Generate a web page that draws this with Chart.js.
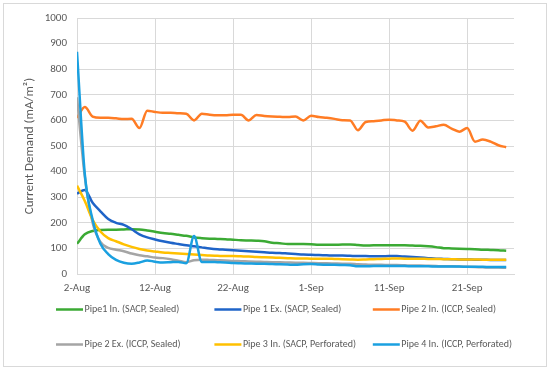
<!DOCTYPE html>
<html>
<head>
<meta charset="utf-8">
<script src="https://cdn.jsdelivr.net/npm/chart.js@4.4.0/dist/chart.umd.min.js"></script>
<style>
  html, body { margin: 0; padding: 0; background: #fff; }
  #wrap { position: relative; width: 550px; height: 370px; }
  #frame { position: absolute; left: 3px; top: 3px; width: 542px; height: 362px; border: 1px solid #d9d9d9; }
  canvas { position: absolute; left: 0; top: 0; }
</style>
</head>
<body>
<div id="wrap">
  <div id="frame"></div>
  <canvas id="demandChart" width="550" height="370"></canvas>
</div>
<script>
// days since 2-Aug
const days = [0,1,2,3,4,5,6,7,8,9,10,11,12,13,14,15,16,17,18,19,20,21,22,23,24,25,26,27,
  28,29,30,31,32,33,34,35,36,37,38,39,40,41,42,43,44,45,46,47,48,49,50,51,52,53,54,55];
const tickLabels = ['2-Aug', '12-Aug', '22-Aug', '1-Sep', '11-Sep', '21-Sep'];
const seriesNames = [
  'Pipe1 In. (SACP, Sealed)', 'Pipe 1 Ex. (SACP, Sealed)', 'Pipe 2 In. (ICCP, Sealed)',
  'Pipe 2 Ex. (ICCP, Sealed)', 'Pipe 3 In. (SACP, Perforated)', 'Pipe 4 In. (ICCP, Perforated)'
];

const pipe1In = [118,155,168,172,173,173,174,175,174,170,165,160,157,153,149,143,140,138,137,136,
  134,132,131,130,128,122,120,117,117,117,116,114,114,114,115,115,113,111,112,112,
  112,112,112,111,110,108,105,101,100,99,98,97,95,94,93,91];
const pipe1Ex = [314,328,278,245,215,200,192,175,155,143,135,128,122,117,112,108,104,100,97,95,
  93,91,89,87,85,83,82,80,78,76,75,74,73,72,72,71,70,70,69,69,
  70,70,68,66,64,62,60,59,58,57,57,56,56,55,55,55];
const pipe2In = [610,652,615,610,610,608,605,606,570,638,633,630,630,628,626,600,626,622,620,620,
  622,622,600,621,617,615,614,613,615,600,618,613,610,606,601,600,562,594,597,600,
  603,600,595,560,599,572,577,583,568,556,570,517,525,517,503,495];
const pipe2Ex = [690,380,200,125,102,95,89,80,73,69,64,62,58,52,46,54,56,55,54,53,
  51,50,49,48,47,46,46,45,44,44,43,42,42,41,40,40,38,37,36,36,
  35,35,34,33,33,32,31,30,30,29,28,27,26,25,25,24];
const pipe3In = [345,285,212,166,140,128,116,106,98,92,88,84,82,80,78,76,74,72,71,70,
  70,69,68,66,65,64,63,62,61,61,60,60,60,59,58,57,56,57,58,59,
  60,61,60,60,60,59,59,58,58,57,57,57,56,56,56,56];
const pipe4In = [868,390,212,118,78,55,44,40,45,53,48,45,46,47,42,148,47,47,46,45,
  43,42,41,40,40,39,38,37,36,38,39,37,36,36,35,34,30,30,31,31,
  31,31,31,30,30,30,29,29,29,29,28,28,28,27,27,27];

const allSeries = [pipe1In, pipe1Ex, pipe2In, pipe2Ex, pipe3In, pipe4In];
const colors = ['#3BAA34', '#1F64C8', '#FF7C24', '#A5A5A5', '#FFC000', '#1AA0E0'];

const fontFamily = "Carlito, Calibri, Lato, sans-serif";
Chart.defaults.font.family = fontFamily;
Chart.defaults.color = '#595959';

// two-row legend under the plot, like the spreadsheet one
const rowLegend = {
  id: 'rowLegend',
  afterDraw(chart) {
    const ctx = chart.ctx;
    ctx.save();
    ctx.font = '10px ' + fontFamily;
    ctx.textBaseline = 'middle';
    ctx.fillStyle = '#595959';
    chart.data.datasets.forEach((ds, i) => {
      const x = 56 + (i % 3) * 158.4;
      const y = 309.5 + Math.floor(i / 3) * 35;
      ctx.strokeStyle = ds.borderColor;
      ctx.lineWidth = 2.5;
      ctx.beginPath();
      ctx.moveTo(x, y);
      ctx.lineTo(x + 27, y);
      ctx.stroke();
      ctx.fillText(ds.label, x + 28.5, y);
    });
    ctx.restore();
  }
};

const ctx = document.getElementById('demandChart').getContext('2d');
const demandChart = new Chart(ctx, {
  type: 'line',
  data: {
    datasets: allSeries.map((vals, i) => ({
      label: seriesNames[i],
      data: days.map((d, j) => ({ x: d, y: vals[j] })),
      borderColor: colors[i],
      backgroundColor: colors[i],
      borderWidth: 2.5,
      pointRadius: 0,
      tension: 0.4,
      cubicInterpolationMode: 'monotone',
      fill: false,
      order: allSeries.length - i
    }))
  },
  options: {
    responsive: false,
    animation: false,
    layout: { padding: { left: 0, right: 36, top: 18, bottom: 0 } },
    plugins: {
      legend: { display: false },
      tooltip: { enabled: false }
    },
    scales: {
      x: {
        type: 'linear',
        min: 0,
        max: 56,
        grid: { color: '#d9d9d9', drawTicks: false },
        border: { color: '#d9d9d9' },
        ticks: {
          stepSize: 10,
          includeBounds: false,
          autoSkip: false,
          maxRotation: 0,
          padding: 8,
          font: { size: 11 },
          callback: (v) => tickLabels[v / 10]
        },
        afterFit: (scale) => { scale.height = 96; }
      },
      y: {
        min: 0,
        max: 1000,
        grid: { color: '#d9d9d9', drawTicks: false },
        border: { color: '#d9d9d9' },
        ticks: { stepSize: 100, padding: 10, font: { size: 11 }, callback: (v) => String(v) },
        title: {
          display: true,
          text: 'Current Demand (mA/m²)',
          font: { size: 13 },
          padding: { top: 22, bottom: 0 }
        },
        afterFit: (scale) => { scale.width = 77; }
      }
    }
  },
  plugins: [rowLegend]
});
</script>
</body>
</html>
